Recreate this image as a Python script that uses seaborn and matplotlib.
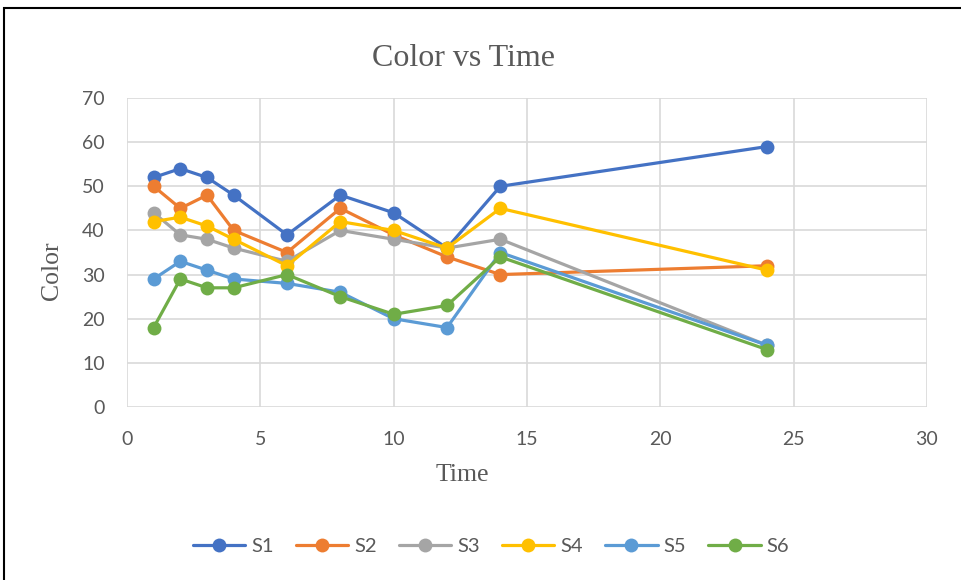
import matplotlib
matplotlib.use("Agg")
import matplotlib.pyplot as plt
import seaborn as sns
import pandas as pd
from matplotlib.patches import Rectangle

time = [1, 2, 3, 4, 6, 8, 10, 12, 14, 24]
s1 = [52, 54, 52, 48, 39, 48, 44, 36, 50, 59]
s2 = [50, 45, 48, 40, 35, 45, 39, 34, 30, 32]
s3 = [44, 39, 38, 36, 33, 40, 38, 36, 38, 14]
s4 = [42, 43, 41, 38, 32, 42, 40, 36, 45, 31]
s5 = [29, 33, 31, 29, 28, 26, 20, 18, 35, 14]
s6 = [18, 29, 27, 27, 30, 25, 21, 23, 34, 13]
series_names = ["S1", "S2", "S3", "S4", "S5", "S6"]
colors = ["#4472C4", "#ED7D31", "#A5A5A5", "#FFC000", "#5B9BD5", "#70AD47"]

frames = []
for name, vals in zip(series_names, [s1, s2, s3, s4, s5, s6]):
    frames.append(pd.DataFrame({"Time": time, "Color": vals, "Series": name}))
df = pd.concat(frames, ignore_index=True)

sns.set_theme(style="white")
plt.rcParams["font.family"] = ["Liberation Serif", "DejaVu Serif"]

fig = plt.figure(figsize=(9.61, 5.80), dpi=100)
ax = fig.add_axes([127 / 961, 1 - 407 / 580, 800 / 961, 309 / 580])

sns.lineplot(
    data=df, x="Time", y="Color", hue="Series", palette=colors,
    marker="o", markersize=10, markeredgewidth=0, linewidth=2.3,
    sort=False, ax=ax, legend=True,
)

ax.set_xlim(0, 30)
ax.set_ylim(0, 70)
ax.set_xticks(range(0, 31, 5))
ax.set_yticks(range(0, 71, 10))
ax.grid(True, color="#D9D9D9", linewidth=1.2)
ax.set_axisbelow(True)
for sp in ax.spines.values():
    sp.set_visible(False)

tick_font = ["Lato", "DejaVu Sans"]
for lab in ax.get_xticklabels() + ax.get_yticklabels():
    lab.set_family(tick_font)
    lab.set_fontsize(14)
    lab.set_color("#595959")
ax.tick_params(axis="x", length=0, pad=17)
ax.tick_params(axis="y", length=0, pad=16)

ax.set_xlabel("")
ax.set_ylabel("")
fig.text(462 / 961, 1 - 475 / 580, "Time", ha="center", va="center",
         fontsize=18.5, color="#595959")
fig.text(52 / 961, 1 - 271 / 580, "Color", ha="center", va="center",
         rotation=90, fontsize=18.5, color="#595959")
fig.text(463 / 961, 1 - 58 / 580, "Color vs Time", ha="center", va="center",
         fontsize=23, color="#595959")

handles, labels = ax.get_legend_handles_labels()
ax.legend_.remove()
leg = fig.legend(handles, labels, loc="center", bbox_to_anchor=(491 / 961, 1 - 546 / 580),
                 ncol=6, frameon=False, handlelength=2.6, columnspacing=1.1,
                 handletextpad=0.3, prop={"family": tick_font, "size": 14.5})
for t in leg.get_texts():
    t.set_color("#595959")
for h in leg.legend_handles:
    h.set_linewidth(2.3)
    h.set_markersize(10)

fig.patches.append(Rectangle((4 / 961, -0.01), 1.0, 1 - 8 / 580 + 0.01, transform=fig.transFigure,
                             fill=False, edgecolor="black", linewidth=1.5))

fig.savefig("out.png", dpi=100)
